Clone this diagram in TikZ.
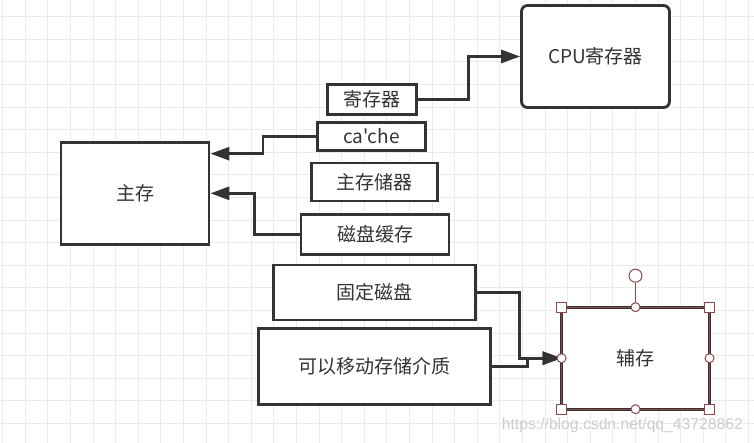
\documentclass[tikz,border=0pt]{standalone}
\usepackage{fontspec}
\newfontfamily\cjkfont{Noto Sans CJK SC}
\newfontfamily\markfont{Liberation Sans}
\usetikzlibrary{positioning,arrows.meta}
\definecolor{ink}{HTML}{333333}
\definecolor{gridgray}{HTML}{EBEBEB}
\definecolor{selbrown}{HTML}{8B4A4A}

\begin{document}
\begin{tikzpicture}[x=1pt, y=-1pt,
    every node/.style={font=\cjkfont\fontsize{19}{22}\selectfont, text=ink},
    box/.style={draw=ink, line width=2.8pt, fill=white, inner sep=0pt},
    link/.style={draw=ink, line width=2.8pt, -{Triangle[length=19pt,width=13pt]}},
    handle/.style={draw=selbrown, line width=1pt, fill=white, inner sep=0pt}
  ]
  \useasboundingbox (0,0) rectangle (754,443);
  \fill[white] (0,0) rectangle (754,443);
  % Grid
  \foreach \k in {0,...,33}
    \draw[gridgray, line width=1pt] (2.7+22.6*\k,0) -- (2.7+22.6*\k,443);
  \foreach \k in {0,...,18}
    \draw[gridgray, line width=1pt] (0,16.7+22.6*\k) -- (754,16.7+22.6*\k);

  % Upper levels
  \node[box, rounded corners=6pt, minimum width=148pt, minimum height=102pt] (cpu) at (595.5,56.5) {CPU寄存器};
  \node[box, minimum width=89pt, minimum height=30pt] (reg) at (371.7,99.5) {寄存器};
  \node[box, minimum width=108pt, minimum height=28pt] (cache) at (371.3,136.2) {ca\symbol{39}che};
  \node[box, minimum width=126pt, minimum height=38pt] (mainstore) at (374.7,182) {主存储器};
  \node[box, minimum width=148pt, minimum height=40pt] (diskcache) at (375,234.3) {磁盘缓存};
  \node[box, minimum width=148pt, minimum height=102pt] (zhucun) at (135,193.3) {主存};
  % Lower levels
  \node[box, minimum width=202pt, minimum height=55pt] (fixed) at (374.8,292.5) {固定磁盘};
  \node[box, minimum width=232pt, minimum height=76pt] (removable) at (374.8,366.7) {可以移动存储介质};
  \node[box, outer sep=0pt, minimum width=148pt, minimum height=102pt] (fucun) at (635.5,358.2) {辅存};

  % Connectors
  \draw[link] (reg.east) -- ++(51,0) |- (cpu.west);
  \draw[link] (cache.west) -- ++(-53,0) |- ([yshift=39.6pt]zhucun.east);
  \draw[link] (diskcache.west) -- ++(-45,0) |- (zhucun.east);
  \draw[link] (fixed.east) -- ++(42,0) |- (fucun.west);
  \draw[link] (removable.east) -- ++(35,0) |- (fucun.west);

  % Selection handles
  \draw[selbrown, line width=1.2pt] (fucun.north west) rectangle (fucun.south east);
  \node[handle, circle, minimum size=13pt] (rot) at (635.5,275.7) {};
  \draw[selbrown, line width=1pt] (rot.south) -- (fucun.north);
  \foreach \a in {north west, north east, south west, south east}
    \node[handle, minimum size=10pt] at (fucun.\a) {};
  \foreach \a in {north, south, east, west}
    \node[handle, circle, minimum size=9pt] at (fucun.\a) {};

  % Watermark
  \node[font=\markfont\fontsize{15.7}{18}\selectfont, text=black!20, anchor=east, inner sep=0pt] (mark) at (743,425) {https://blog.csdn.net/qq\_43728862};
\end{tikzpicture}
\end{document}
